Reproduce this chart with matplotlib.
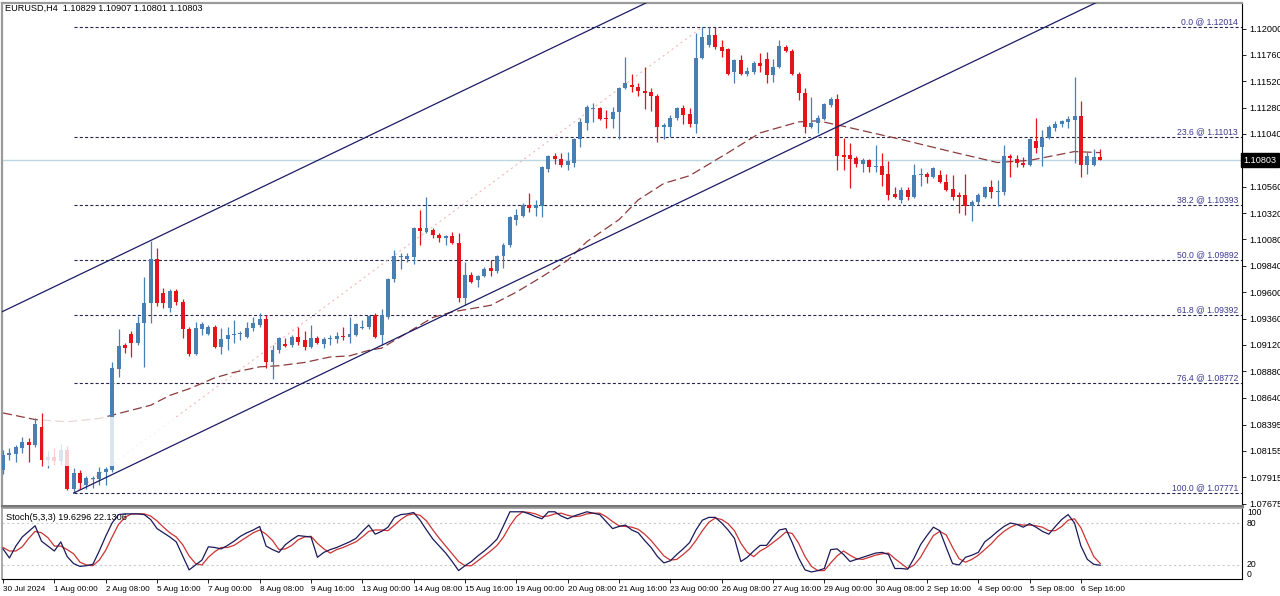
import matplotlib
matplotlib.use("Agg")
import matplotlib.pyplot as plt
import numpy as np
from matplotlib.transforms import blended_transform_factory
from matplotlib.patches import Rectangle
from matplotlib import font_manager

names = {f.name for f in font_manager.fontManager.ttflist}
fam = ['Liberation Sans Narrow'] if 'Liberation Sans Narrow' in names else []
plt.rcParams['font.family'] = fam + ['Liberation Sans', 'DejaVu Sans']
plt.rcParams['lines.scale_dashes'] = False

# ---------------- data ----------------
opens = [1.0798, 1.0812, 1.0813, 1.0818, 1.0824, 1.0821, 1.0837, 1.0807, 1.0810, 1.0806,
         1.0816, 1.0781, 1.0795, 1.0784, 1.0790, 1.0790, 1.0796, 1.0798, 1.0890, 1.0912,
         1.0922, 1.0914, 1.0932, 1.0950, 1.0990, 1.0959, 1.0946, 1.0961, 1.0951, 1.0926,
         1.0904, 1.0926, 1.0922, 1.0928, 1.0910, 1.0917, 1.0921, 1.0922, 1.0919, 1.0927,
         1.0930, 1.0936, 1.0896, 1.0907, 1.0913, 1.0912, 1.0919, 1.0916, 1.0910, 1.0918,
         1.0913, 1.0917, 1.0917, 1.0920, 1.0919, 1.0921, 1.0927, 1.0928, 1.0939, 1.0921,
         1.0937, 1.0972, 1.0992, 1.0990, 1.0992, 1.1018, 1.1015, 1.1017, 1.1012, 1.1009,
         1.1011, 1.1005, 1.0955, 1.0976, 1.0971, 1.0975, 1.0982, 1.0979, 1.0993, 1.1003,
         1.1026, 1.1029, 1.1039, 1.1037, 1.1038, 1.1072, 1.1084, 1.1081, 1.1076, 1.1078,
         1.1099, 1.1114, 1.1127, 1.1128, 1.1119, 1.1118, 1.1124, 1.1146, 1.1149, 1.1147,
         1.1143, 1.1142, 1.1139, 1.1110, 1.1110, 1.1119, 1.1128, 1.1122, 1.1113, 1.1173,
         1.1185, 1.1194, 1.1183, 1.1181, 1.1160, 1.1171, 1.1159, 1.1160, 1.1169, 1.1172,
         1.1158, 1.1165, 1.1183, 1.1180, 1.1159, 1.1141, 1.1110, 1.1114, 1.1118, 1.1130,
         1.1136, 1.1085, 1.1085, 1.1082, 1.1077, 1.1080, 1.1074, 1.1075, 1.1068, 1.1049,
         1.1044, 1.1053, 1.1047, 1.1067, 1.1068, 1.1065, 1.1067, 1.1060, 1.1054, 1.1048,
         1.1048, 1.1038, 1.1042, 1.1047, 1.1056, 1.1051, 1.1051, 1.1084, 1.1081, 1.1078,
         1.1076, 1.1098, 1.1092, 1.1100, 1.1109, 1.1113, 1.1115, 1.1117, 1.1120, 1.1076,
         1.1076, 1.10829]
highs = [1.0816, 1.0818, 1.0821, 1.0828, 1.0827, 1.0845, 1.0850, 1.0815, 1.0818, 1.0822,
         1.0820, 1.0800, 1.0798, 1.0793, 1.0793, 1.0801, 1.0801, 1.0896, 1.0926, 1.0914,
         1.0925, 1.0938, 1.0974, 1.1007, 1.1000, 1.0964, 1.0963, 1.0963, 1.0954, 1.0928,
         1.0933, 1.0933, 1.0930, 1.0930, 1.0927, 1.0928, 1.0935, 1.0925, 1.0933, 1.0937,
         1.0941, 1.0939, 1.0912, 1.0919, 1.0918, 1.0921, 1.0928, 1.0925, 1.0930, 1.0920,
         1.0919, 1.0921, 1.0924, 1.0928, 1.0937, 1.0932, 1.0935, 1.0939, 1.0941, 1.0945,
         1.0973, 1.0998, 1.0996, 1.0996, 1.1019, 1.1035, 1.1047, 1.1018, 1.1014, 1.1012,
         1.1015, 1.1014, 1.0987, 1.0978, 1.0976, 1.0983, 1.0989, 1.0994, 1.1005, 1.1029,
         1.1036, 1.1041, 1.1050, 1.1044, 1.1075, 1.1085, 1.1087, 1.1087, 1.1088, 1.1100,
         1.1119, 1.1130, 1.1132, 1.1129, 1.1126, 1.1129, 1.1147, 1.1174, 1.1159, 1.1150,
         1.1165, 1.1146, 1.1140, 1.1114, 1.1121, 1.1129, 1.1130, 1.1128, 1.1196, 1.1201,
         1.1201, 1.1201, 1.1190, 1.1182, 1.1172, 1.1176, 1.1165, 1.1170, 1.1178, 1.1179,
         1.1172, 1.1190, 1.1185, 1.1181, 1.1160, 1.1146, 1.1138, 1.1121, 1.1132, 1.1138,
         1.1140, 1.1100, 1.1096, 1.1084, 1.1082, 1.1081, 1.1094, 1.1087, 1.1079, 1.1056,
         1.1056, 1.1056, 1.1077, 1.1073, 1.1069, 1.1074, 1.1071, 1.1068, 1.1067, 1.1051,
         1.1068, 1.1044, 1.1050, 1.1057, 1.1062, 1.1062, 1.1094, 1.1086, 1.1085, 1.1083,
         1.1100, 1.1119, 1.1108, 1.1112, 1.1116, 1.1117, 1.1120, 1.1156, 1.1134, 1.1088,
         1.1090, 1.10907]
lows = [1.0794, 1.0807, 1.0805, 1.0814, 1.0805, 1.0819, 1.0802, 1.0800, 1.0803, 1.0803,
        1.0780, 1.0777, 1.0781, 1.0781, 1.0782, 1.0784, 1.0784, 1.0796, 1.0883, 1.0905,
        1.0901, 1.0912, 1.0892, 1.0932, 1.0947, 1.0946, 1.0942, 1.0948, 1.0918, 1.0902,
        1.0903, 1.0921, 1.0921, 1.0909, 1.0904, 1.0907, 1.0914, 1.0916, 1.0918, 1.0925,
        1.0928, 1.0891, 1.0881, 1.0905, 1.0910, 1.0910, 1.0912, 1.0907, 1.0909, 1.0913,
        1.0909, 1.0912, 1.0914, 1.0916, 1.0914, 1.0920, 1.0926, 1.0926, 1.0918, 1.0912,
        1.0936, 1.0969, 1.0981, 1.0987, 1.0986, 1.1003, 1.1014, 1.1009, 1.1006, 1.1003,
        1.1004, 1.0951, 1.0948, 1.0968, 1.0965, 1.0974, 1.0975, 1.0977, 1.0982, 1.1001,
        1.1021, 1.1028, 1.1033, 1.1029, 1.1028, 1.1069, 1.1077, 1.1074, 1.1071, 1.1074,
        1.1092, 1.1108, 1.1115, 1.1117, 1.1109, 1.1109, 1.1099, 1.1145, 1.1142, 1.1139,
        1.1127, 1.1125, 1.1097, 1.1099, 1.1101, 1.1117, 1.1113, 1.1110, 1.1105, 1.1172,
        1.1183, 1.1181, 1.1174, 1.1158, 1.1150, 1.1158, 1.1157, 1.1159, 1.1160, 1.1150,
        1.1151, 1.1164, 1.1179, 1.1158, 1.1135, 1.1105, 1.1109, 1.1105, 1.1117, 1.1129,
        1.1071, 1.1071, 1.1055, 1.1074, 1.1069, 1.1069, 1.1069, 1.1057, 1.1044, 1.1046,
        1.1041, 1.1044, 1.1046, 1.1057, 1.1059, 1.1064, 1.1059, 1.1052, 1.1044, 1.1032,
        1.1030, 1.1025, 1.1039, 1.1046, 1.1046, 1.1038, 1.1048, 1.1065, 1.1074, 1.1074,
        1.1075, 1.1087, 1.1075, 1.1099, 1.1107, 1.1110, 1.1109, 1.1078, 1.1065, 1.1068,
        1.1075, 1.10801]
closes = [1.0812, 1.0814, 1.0819, 1.0824, 1.0821, 1.0840, 1.0807, 1.0810, 1.0806, 1.0816,
          1.0781, 1.0795, 1.0786, 1.0791, 1.0791, 1.0796, 1.0799, 1.0891, 1.0911, 1.0909,
          1.0914, 1.0932, 1.0950, 1.0990, 1.0950, 1.0950, 1.0961, 1.0951, 1.0926, 1.0904,
          1.0927, 1.0931, 1.0928, 1.0910, 1.0917, 1.0921, 1.0922, 1.0923, 1.0927, 1.0932,
          1.0936, 1.0896, 1.0907, 1.0918, 1.0911, 1.0919, 1.0915, 1.0910, 1.0918, 1.0914,
          1.0917, 1.0918, 1.0920, 1.0919, 1.0922, 1.0931, 1.0928, 1.0938, 1.0919, 1.0939,
          1.0972, 1.0993, 1.0993, 1.0993, 1.1018, 1.1016, 1.1018, 1.1012, 1.1009, 1.1011,
          1.1005, 1.0955, 1.0976, 1.0969, 1.0975, 1.0981, 1.0979, 1.0993, 1.1003, 1.1028,
          1.1030, 1.1039, 1.1037, 1.1039, 1.1074, 1.1084, 1.1081, 1.1076, 1.1079, 1.1099,
          1.1115, 1.1129, 1.1128, 1.1118, 1.1118, 1.1124, 1.1146, 1.1150, 1.1147, 1.1143,
          1.1141, 1.1139, 1.1110, 1.1112, 1.1119, 1.1128, 1.1121, 1.1113, 1.1173, 1.1192,
          1.1194, 1.1183, 1.1180, 1.1159, 1.1171, 1.1159, 1.1161, 1.1169, 1.1166, 1.1158,
          1.1165, 1.1184, 1.1180, 1.1159, 1.1141, 1.1110, 1.1114, 1.1119, 1.1131, 1.1136,
          1.1084, 1.1083, 1.1081, 1.1077, 1.1080, 1.1074, 1.1075, 1.1067, 1.1048, 1.1047,
          1.1053, 1.1047, 1.1067, 1.1068, 1.1065, 1.1073, 1.1060, 1.1053, 1.1047, 1.1047,
          1.1038, 1.1042, 1.1048, 1.1056, 1.1051, 1.1052, 1.1084, 1.1082, 1.1078, 1.1076,
          1.1099, 1.1091, 1.1100, 1.1110, 1.1113, 1.1116, 1.1118, 1.1120, 1.1076, 1.1084,
          1.1083, 1.10803]

# moving average (dashed) read at selected bars
ma_bars = [0, 5, 10, 15, 19, 23, 26, 29, 31, 33, 36, 40, 43, 47, 51, 54, 57, 59, 63, 67,
           70, 73, 76, 80, 84, 88, 91, 96, 99, 103, 107, 113, 118, 124, 127, 131, 140, 147,
           155, 160, 167, 171]
ma_vals = [1.0850, 1.0844, 1.0842, 1.0845, 1.0851, 1.0857, 1.0866, 1.0872, 1.0877, 1.0882,
           1.0887, 1.0892, 1.0893, 1.0896, 1.0901, 1.0902, 1.0907, 1.0909, 1.0923, 1.0937,
           1.0942, 1.0945, 1.0948, 1.0960, 1.0974, 1.0989, 1.1006, 1.1026, 1.1044, 1.1059,
           1.1066, 1.1087, 1.1105, 1.1115, 1.1116, 1.1111, 1.1099, 1.1089, 1.1078, 1.1080,
           1.1088, 1.1087]

# stochastic %K and %D (5,3,3)
stoch_k = [43, 30, 47, 60, 68, 76, 54, 47, 40, 53, 32, 22, 18, 19, 21, 40, 61, 80, 92, 93,
           93, 93, 92, 85, 72, 66, 60, 53, 33, 13, 20, 27, 46, 45, 43, 48, 54, 61, 66, 70,
           75, 47, 42, 38, 49, 56, 62, 61, 60, 31, 38, 42, 45, 49, 53, 58, 68, 77, 64, 68,
           74, 88, 92, 93, 95, 84, 70, 57, 47, 37, 25, 12, 19, 25, 33, 40, 48, 57, 76, 96,
           96, 96, 93, 89, 86, 96, 96, 90, 86, 90, 93, 96, 94, 92, 82, 72, 75, 77, 70, 66,
           55, 45, 32, 23, 26, 35, 43, 52, 70, 84, 88, 88, 80, 70, 58, 25, 31, 40, 48, 48,
           60, 70, 72, 52, 30, 13, 10, 12, 15, 42, 43, 35, 25, 28, 31, 34, 37, 38, 35, 15,
           15, 14, 30, 49, 62, 74, 69, 45, 22, 20, 31, 34, 38, 53, 60, 68, 75, 80, 78, 74,
           79, 74, 68, 64, 75, 85, 92, 80, 47, 28, 21, 19.63]
stoch_d = [45, 40, 40, 46, 58, 68, 66, 59, 47, 47, 42, 36, 24, 20, 19, 27, 41, 60, 78, 88,
           93, 93, 93, 90, 83, 74, 66, 60, 49, 33, 22, 20, 31, 39, 45, 45, 48, 54, 60, 66,
           70, 64, 55, 42, 43, 48, 56, 60, 61, 51, 43, 37, 42, 45, 49, 53, 60, 68, 70, 70,
           69, 77, 85, 91, 93, 91, 83, 70, 58, 47, 36, 25, 19, 19, 26, 33, 40, 48, 60, 76,
           89, 96, 95, 93, 89, 90, 93, 94, 91, 89, 90, 93, 94, 94, 89, 82, 76, 75, 74, 71,
           64, 55, 44, 33, 27, 28, 35, 43, 55, 69, 81, 87, 85, 79, 69, 51, 38, 32, 40, 45,
           52, 59, 67, 65, 51, 32, 18, 12, 12, 23, 33, 40, 34, 29, 28, 31, 34, 36, 37, 29,
           22, 15, 20, 31, 47, 62, 68, 63, 45, 29, 24, 28, 34, 42, 50, 60, 68, 74, 78, 77,
           77, 76, 74, 69, 69, 75, 84, 86, 73, 52, 32, 22.13]

# Fibonacci retracement
fib_levels = [0.0, 23.6, 38.2, 50.0, 61.8, 76.4, 100.0]
fib_prices = [1.12014, 1.11013, 1.10393, 1.09892, 1.09392, 1.08772, 1.07771]
fib_anchor_bars = [11, 109]

# channel lines: lower through two lows, upper through one high
chan_lower_bars = [11, 72]
chan_lower_prices = [1.07771, 1.0948]
chan_upper_bar = 23
chan_upper_price = 1.1007

price_ticks = [1.12000, 1.11760, 1.11520, 1.11280, 1.11040, 1.10560, 1.10320, 1.10080,
               1.09840, 1.09600, 1.09360, 1.09120, 1.08880, 1.08640, 1.08395, 1.08155,
               1.07915, 1.07675]
current_price = 1.10803
time_labels = ["30 Jul 2024", "1 Aug 00:00", "2 Aug 08:00", "5 Aug 16:00", "7 Aug 00:00",
               "8 Aug 08:00", "9 Aug 16:00", "13 Aug 00:00", "14 Aug 08:00", "15 Aug 16:00",
               "19 Aug 00:00", "20 Aug 08:00", "21 Aug 16:00", "23 Aug 00:00", "26 Aug 08:00",
               "27 Aug 16:00", "29 Aug 00:00", "30 Aug 08:00", "2 Sep 16:00", "4 Sep 00:00",
               "5 Sep 08:00", "6 Sep 16:00"]
time_label_step = 8

# ---------------- figure ----------------
W, H = 1280, 596
fig = plt.figure(figsize=(12.8, 5.96), dpi=100)
fig.patch.set_facecolor('white')


def rect(x0, y0, x1, y1):
    return [x0 / W, 1 - y1 / H, (x1 - x0) / W, (y1 - y0) / H]


ax = fig.add_axes(rect(2, 3, 1242, 506))
axs = fig.add_axes(rect(2, 508, 1242, 579))

n = len(opens)
idx = np.arange(n)
o = np.array(opens); h = np.array(highs); l = np.array(lows); c = np.array(closes)
XLIM = (-0.16, 193.1)
ax.set_xlim(*XLIM)
axs.set_xlim(*XLIM)
ax.set_ylim(1.07653, 1.122325)
axs.set_ylim(0, 101.4)

BLUE = '#4a7fb3'
RED = '#e3141c'
NAVY = '#1c1c66'
FS = 6.6

# Fibonacci levels
trans_ax = blended_transform_factory(ax.transAxes, ax.transData)
for lv, pr in zip(fib_levels, fib_prices):
    ax.hlines(pr, fib_anchor_bars[0], XLIM[1], colors='#25254a', lw=0.8,
              linestyles=(0, (2.2, 1.6)), zorder=2)
    ax.text(0.9968, pr + 0.00005, f"{lv:.1f} @ {pr:.5f}", transform=trans_ax,
            ha='right', va='bottom', fontsize=6.2, color='#3a3a8e', zorder=6)
# fib diagonal
ax.plot(fib_anchor_bars, [fib_prices[-1], fib_prices[0]], color='#f2b8b8', lw=0.8,
        ls=(0, (1.5, 2.5)), zorder=2)

# current price line
ax.axhline(current_price, color='#bcd6e2', lw=1.0, zorder=1)

# moving average
ax.plot(ma_bars, ma_vals, color='#8c3c3c', lw=0.9, ls=(0, (6.5, 3.0)), zorder=3)

# washed-out patch (as in the screenshot)
ax.add_patch(Rectangle((6.3, 1.0802), 43.0, 0.0044, facecolor='white', edgecolor='none',
                       alpha=0.8, zorder=6))

# channel lines
slope = (chan_lower_prices[1] - chan_lower_prices[0]) / (chan_lower_bars[1] - chan_lower_bars[0])
xl = np.array([chan_lower_bars[0], XLIM[1]])
ax.plot(xl, chan_lower_prices[0] + slope * (xl - chan_lower_bars[0]), color=NAVY, lw=0.9,
        zorder=7)
xu = np.array([XLIM[0], XLIM[1]])
ax.plot(xu, chan_upper_price + slope * (xu - chan_upper_bar), color=NAVY, lw=0.9, zorder=3)

# candles
cols = [BLUE if cc >= oo else RED for oo, cc in zip(o, c)]
ax.vlines(idx, l, h, colors=cols, lw=0.9, zorder=4)
bottoms = np.minimum(o, c)
heights = np.maximum(np.abs(c - o), 0.000025)
ax.bar(idx, heights, bottom=bottoms, width=0.62, color=cols, linewidth=0, zorder=5)

# axes styling main
ax.yaxis.tick_right()
ax.set_yticks(price_ticks)
ax.set_yticklabels([f"{v:.5f}" for v in price_ticks])
ax.tick_params(axis='y', labelsize=FS, length=3, width=0.6, pad=2, colors='black')
ax.set_xticks([])
for side in ['left', 'top']:
    ax.spines[side].set_color('#9a9a9a'); ax.spines[side].set_linewidth(1.6)
ax.spines['right'].set_color('black'); ax.spines['right'].set_linewidth(0.8)
ax.spines['bottom'].set_color('#777777'); ax.spines['bottom'].set_linewidth(2.2)

ax.text(1.001, current_price, f"{current_price:.5f}", transform=trans_ax, ha='left',
        va='center', fontsize=FS, color='white', zorder=10, clip_on=False,
        bbox=dict(boxstyle='square,pad=0.25', facecolor='black', edgecolor='black'))

fig.text(5 / W, 1 - 8 / H, "EURUSD,H4  1.10829 1.10907 1.10801 1.10803", fontsize=FS,
         va='center', ha='left')

# stochastic panel
for lvl in (80, 20):
    axs.axhline(lvl, color='#c8c8c8', lw=0.8, ls=(0, (1.5, 2.0)), zorder=1)
axs.plot(idx, stoch_d, color='#cc3333', lw=0.9, zorder=3)
axs.plot(idx, stoch_k, color='#1a1a5a', lw=0.9, zorder=4)
axs.set_yticks([])
trans_s = blended_transform_factory(axs.transAxes, axs.transData)
axs.text(1.004, 102, "100", transform=trans_s, ha='left', va='top', fontsize=6.2)
axs.text(1.004, 79, "80", transform=trans_s, ha='left', va='center', fontsize=6.2)
axs.text(1.004, 20, "20", transform=trans_s, ha='left', va='center', fontsize=6.2)
axs.text(1.004, 0, "0", transform=trans_s, ha='left', va='bottom', fontsize=6.2)
axs.text(0.003, 0.86, "Stoch(5,3,3) 19.6296 22.1306", transform=axs.transAxes,
         fontsize=FS, ha='left', va='center')

xt = [i * time_label_step for i in range(len(time_labels))]
axs.set_xticks(xt)
axs.set_xticklabels(time_labels, ha='left')
axs.tick_params(axis='x', labelsize=5.9, length=3, width=0.6, pad=2)
for side in ['left', 'top']:
    axs.spines[side].set_color('#9a9a9a'); axs.spines[side].set_linewidth(1.2)
axs.spines['right'].set_color('black'); axs.spines['right'].set_linewidth(0.8)
axs.spines['bottom'].set_color('black'); axs.spines['bottom'].set_linewidth(0.8)

fig.savefig('out.png', dpi=100)
